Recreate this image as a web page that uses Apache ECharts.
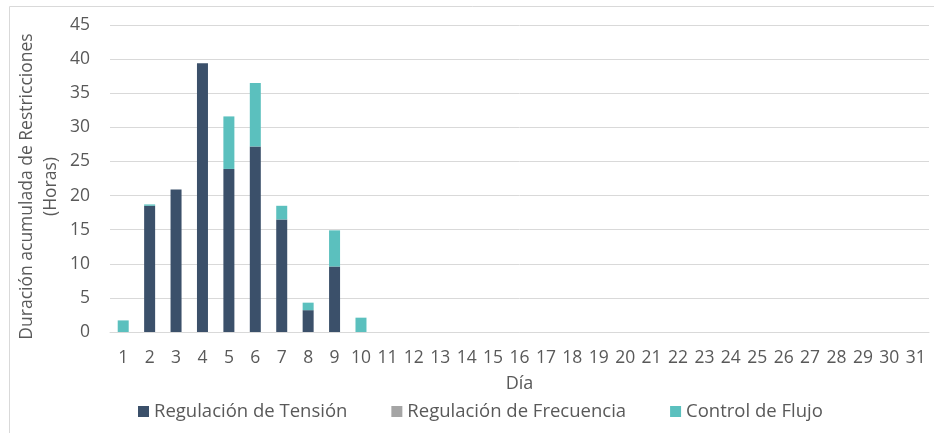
<!DOCTYPE html>
<html>
<head>
<meta charset="utf-8">
<script src="https://cdn.jsdelivr.net/npm/echarts@6/dist/echarts.min.js"></script>
<style>
  html, body { margin: 0; padding: 0; background: #fff; }
  #chart { width: 934px; height: 433px; }
</style>
</head>
<body>
<div id="chart"></div>
<script>
  // días del mes
  const dias = []
  for (let d = 1; d <= 31; d++) dias.push(String(d))

  // horas por tipo de restricción (días 1-10, resto sin datos)
  const tension = [0, 18.5, 20.9, 39.4, 23.9, 27.2, 16.5, 3.2, 9.6, 0]
  const frecuencia = [0, 0, 0, 0, 0, 0, 0, 0, 0, 0]
  const flujo = [1.7, 0.2, 0, 0, 7.7, 9.3, 2.0, 1.1, 5.3, 2.1]

  const yTicks = [0, 5, 10, 15, 20, 25, 30, 35, 40, 45]

  const txt = '#595959'
  const font = 'Open Sans'

  const chart = echarts.init(document.getElementById('chart'))
  chart.setOption({
    animation: false,
    textStyle: {fontFamily: font, color: txt},
    graphic: [{
      type: 'rect',
      shape: {x: 9.5, y: 6.5, width: 940, height: 440},
      style: {fill: 'none', stroke: '#d9d9d9', lineWidth: 1},
      silent: true
    }],
    grid: {left: 110, right: 5, top: 25, bottom: 101},
    legend: {
      bottom: 7,
      left: 133,
      itemWidth: 11,
      itemHeight: 11,
      itemGap: 44,
      icon: 'rect',
      textStyle: {fontFamily: font, fontSize: 18.5, color: txt},
      data: ['Regulación de Tensión', 'Regulación de Frecuencia', 'Control de Flujo']
    },
    xAxis: {
      type: 'category',
      data: dias,
      name: 'Día',
      nameLocation: 'middle',
      nameGap: 43,
      nameTextStyle: {fontFamily: font, fontSize: 18, color: txt},
      axisLine: {lineStyle: {color: '#d9d9d9'}},
      axisTick: {show: false},
      axisLabel: {color: txt, fontSize: 17.5, margin: 17, interval: 0}
    },
    yAxis: {
      type: 'value',
      min: yTicks[0],
      max: yTicks[yTicks.length - 1],
      interval: 5,
      name: 'Duración acumulada de Restricciones\n(Horas)',
      nameLocation: 'middle',
      nameRotate: 90,
      nameGap: 47,
      nameMoveOverlap: false,
      nameTextStyle: {fontFamily: font, fontSize: 17.5, color: txt, lineHeight: 24, padding: [0, 16, 0, 0]},
      axisLine: {show: false},
      axisTick: {show: false},
      axisLabel: {color: txt, fontSize: 17.5, margin: 20},
      splitLine: {lineStyle: {color: '#d9d9d9'}}
    },
    series: [{
      name: 'Regulación de Tensión',
      type: 'bar',
      stack: 'total',
      barWidth: 11,
      itemStyle: {color: '#3b506a'},
      data: tension
    }, {
      name: 'Regulación de Frecuencia',
      type: 'bar',
      stack: 'total',
      barWidth: 11,
      itemStyle: {color: '#a5a5a5'},
      data: frecuencia
    }, {
      name: 'Control de Flujo',
      type: 'bar',
      stack: 'total',
      barWidth: 11,
      itemStyle: {color: '#5bc0be'},
      data: flujo
    }]
  })
</script>
</body>
</html>
